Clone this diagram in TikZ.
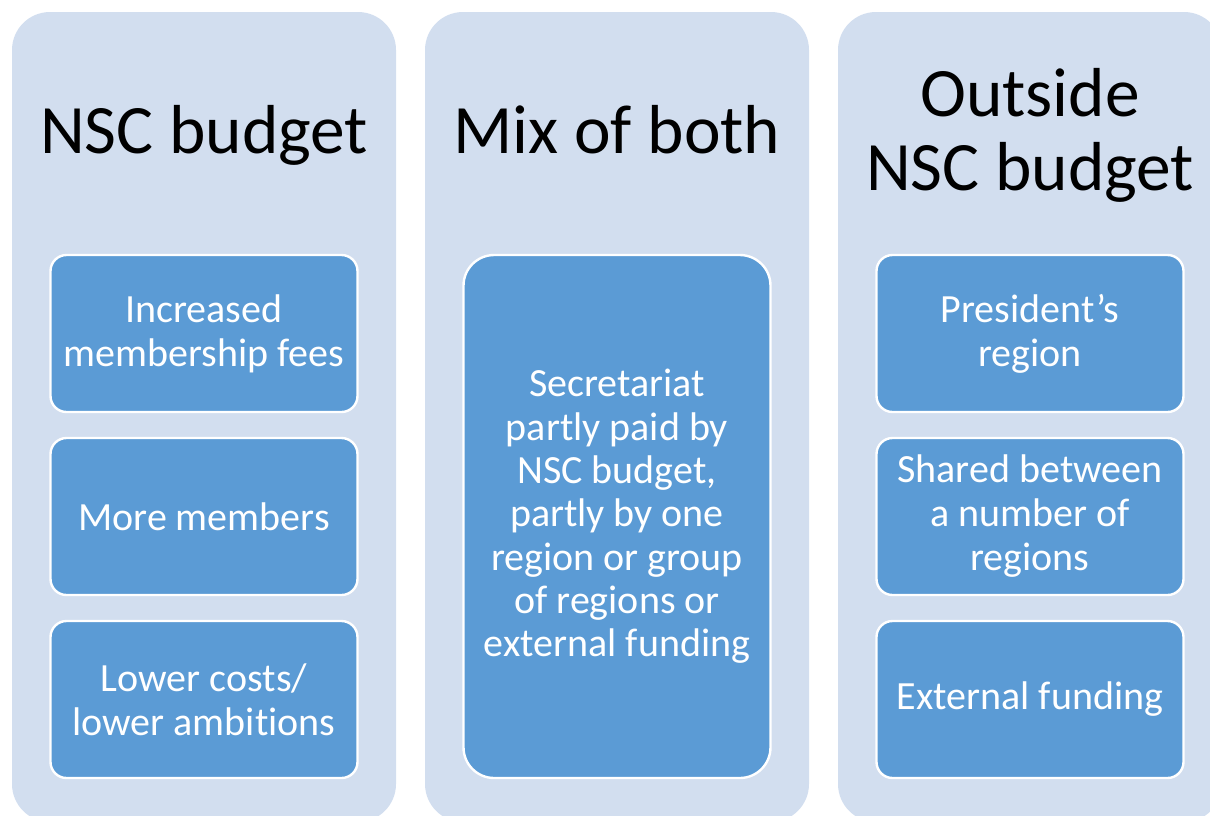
\documentclass[tikz,border=0pt]{standalone}
\usepackage{fontspec}
\setmainfont{Carlito}[Ligatures=NoCommon]
\definecolor{colback}{HTML}{D2DEEF}
\definecolor{itemblue}{HTML}{5B9BD5}
\begin{document}
\begin{tikzpicture}[x=0.75pt,y=-0.75pt,line join=round,
	col/.style={fill=colback,rounded corners=28.5pt,minimum width=288pt,minimum height=607.5pt,inner sep=0pt},
	item/.style={draw=white,line width=1.8pt,fill=itemblue,rounded corners=12pt,text=white,align=center,
		minimum width=230.25pt,minimum height=117.75pt,inner sep=0pt,font=\fontsize{30}{33}\selectfont},
	head/.style={align=center,font=\fontsize{52}{55}\selectfont}]
	\useasboundingbox (0,0) rectangle (1210,815);
	\begin{scope}
		\clip (0,0) rectangle (1210,815);
		\foreach \n/\x in {A/204,B/617,C/1030}
		\node[col] (col\n) at (\x,417) {};
	\end{scope}
	
	% column titles
	\node[head,anchor=base] (headA) at (204,153) {NSC budget};
	\node[head,anchor=base] (headB) at (617,153) {Mix of both};
	\node[head,anchor=base] (headC) at (1030,190) {Outside\\NSC budget};
	
	\foreach \n/\y/\t in {1/333.5/{Increased\\membership fees},2/516.5/{More members},3/699.5/{Lower costs/\\lower ambitions}}
	\node[item] (itemA\n) at (204,\y) {\t};
	
	\node[item,minimum height=392.25pt,rounded corners=23pt,font=\fontsize{30}{32.5}\selectfont] (itemB) at (617,516.5)
	{Secretariat\\partly paid by\\NSC budget,\\partly by one\\region or group\\of regions or\\external funding};
	
	\foreach \n/\y/\t in {1/333.5/{President’s\\region},2/516.5/{Shared between\\a number of\\regions},3/699.5/{External funding}}
	\node[item] (itemC\n) at (1030,\y) {\t};
\end{tikzpicture}
\end{document}
